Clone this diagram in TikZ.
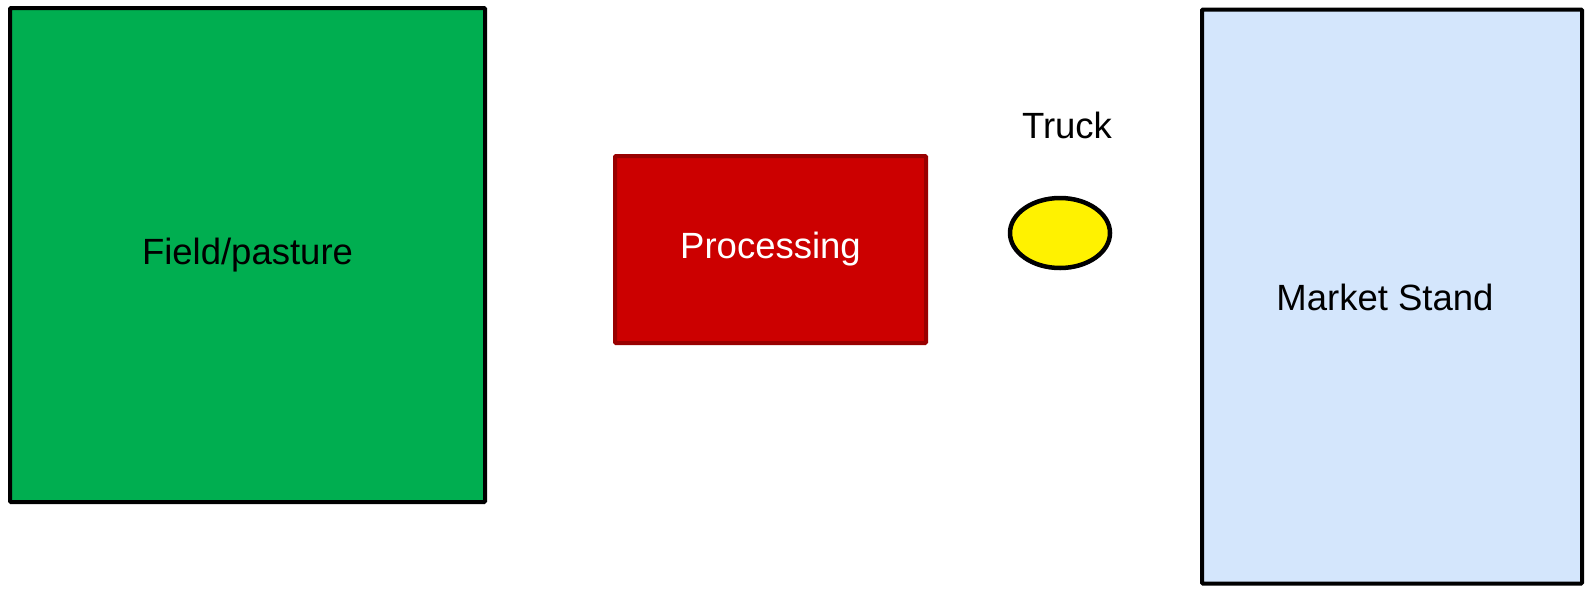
\documentclass[tikz,border=0pt]{standalone}
\usepackage{fontspec}
\setmainfont{Liberation Sans}
\usetikzlibrary{positioning,shapes.geometric}
\definecolor{fieldgreen}{RGB}{0,174,80}
\definecolor{procred}{RGB}{204,0,0}
\definecolor{procedge}{RGB}{153,0,0}
\definecolor{standblue}{RGB}{212,230,252}
\begin{document}
\begin{tikzpicture}[x=1pt,y=-1pt,
  area/.style={draw=black, line width=4pt, inner sep=0pt, rounded corners=1pt},
  lbl/.style={font=\fontsize{36.5}{44}\selectfont}]
\useasboundingbox (0,0) rectangle (1585,590);
% field, processing, stand
\node[area, fill=fieldgreen, minimum width=475pt, minimum height=494pt, lbl] (field) at (247.5,255) {Field/pasture};
\node[area, draw=procedge, fill=procred, minimum width=311pt, minimum height=187pt, text=white, lbl] (proc) at (770.5,249.5) {Processing};
\node[area, fill=standblue, minimum width=380pt, minimum height=574pt] (stand) at (1392,296.5) {};
\node[lbl] (standlbl) at (1385,297) {Market Stand};
% truck
\node[ellipse, draw=black, line width=4.5pt, fill=yellow, minimum width=100pt, minimum height=70pt] (truck) at (1060,233) {};
\node[lbl] (trucklbl) at (1067,125) {Truck};
\end{tikzpicture}
\end{document}
